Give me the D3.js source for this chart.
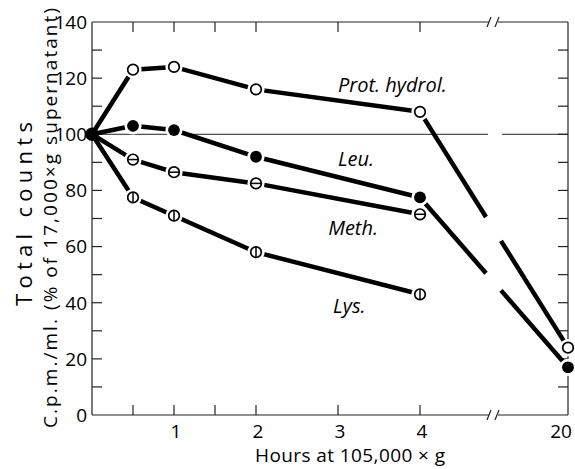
<!DOCTYPE html>
<html>
<head>
<meta charset="utf-8">
<script src="https://cdn.jsdelivr.net/npm/d3@7"></script>
<style>
  html, body { margin: 0; padding: 0; background: #fff; }
  svg { display: block; }
  text { font-family: "Open Sans", "DejaVu Sans", sans-serif; font-weight: 400; fill: #000; }
</style>
</head>
<body>
<svg id="chart" width="575" height="469"></svg>
<script>
// ---- data ----
const hours = [0, 0.5, 1, 2, 4, 20];
const protHydrol = [100, 123, 124, 116, 108, 24];
const leu = [100, 103, 101.5, 92, 77.5, 17];
const meth = [100, 91, 86.5, 82.5, 71.5];
const lys = [100, 77.5, 71, 58, 43];
const seriesNames = ["Prot. hydrol.", "Leu.", "Meth.", "Lys."];
const seriesMarkers = ["open", "filled", "hbar", "vbar"];
const labelHours = [3.0, 3.0, 2.88, 2.94];
const labelValues = [115, 88.6, 64, 36.3];
const yTicks = [0, 20, 40, 60, 80, 100, 120, 140];
const yMinorTicks = [10, 20, 30, 40, 50, 60, 70, 80, 90, 100, 110, 120, 130];
const xTickLabels = [1, 2, 3, 4, 20];
const xTicks = [0.5, 1, 1.5, 2, 3, 4];
const referenceLevel = 100;

const svg = d3.select("#chart");
const x = d3.scaleLinear().domain([0, 4, 20]).range([92, 420, 568]);
const y = d3.scaleLinear().domain([0, 140]).range([415, 22]);
const xBreak = 493;

const allSeries = [protHydrol, leu, meth, lys].map((vals, i) => ({
  name: seriesNames[i], marker: seriesMarkers[i],
  pts: vals.map((v, j) => ({ h: hours[j], v: v }))
}));

// ---- frame ----
const ax = svg.append("g").attr("stroke", "#222").attr("stroke-width", 1.2).attr("fill", "none");
const L = x(0), R = x(20), T = y(140), B = y(0);
ax.append("line").attr("x1", L).attr("x2", L).attr("y1", T).attr("y2", B);
ax.append("line").attr("x1", R).attr("x2", R).attr("y1", T).attr("y2", B);
[T, B].forEach(yy => {
  ax.append("line").attr("x1", L).attr("x2", xBreak - 4).attr("y1", yy).attr("y2", yy);
  ax.append("line").attr("x1", xBreak + 5).attr("x2", R).attr("y1", yy).attr("y2", yy);
  ax.append("line").attr("x1", xBreak - 6).attr("x2", xBreak - 2).attr("y1", yy + 5).attr("y2", yy - 5);
  ax.append("line").attr("x1", xBreak + 2).attr("x2", xBreak + 6).attr("y1", yy + 5).attr("y2", yy - 5);
});
yMinorTicks.forEach(v => {
  ax.append("line").attr("x1", L).attr("x2", L + 10).attr("y1", y(v)).attr("y2", y(v));
  ax.append("line").attr("x1", R).attr("x2", R - 10).attr("y1", y(v)).attr("y2", y(v));
});
xTicks.forEach(h => {
  ax.append("line").attr("x1", x(h)).attr("x2", x(h)).attr("y1", T).attr("y2", T + 10);
  ax.append("line").attr("x1", x(h)).attr("x2", x(h)).attr("y1", B).attr("y2", B - 10);
});
ax.append("line").attr("x1", L).attr("x2", xBreak - 5).attr("y1", y(referenceLevel)).attr("y2", y(referenceLevel)).attr("stroke-width", 1);
ax.append("line").attr("x1", xBreak + 9).attr("x2", R).attr("y1", y(referenceLevel)).attr("y2", y(referenceLevel)).attr("stroke-width", 1);

// ---- tick labels ----
svg.append("g").selectAll("text").data(yTicks).join("text")
  .attr("x", L - 5).attr("y", d => y(d)).attr("dy", "0.36em")
  .attr("text-anchor", "end").attr("font-size", 19).text(d => d);
svg.append("g").selectAll("text").data(xTickLabels).join("text")
  .attr("x", d => d === 20 ? x(d) - 7 : x(d) + 2).attr("y", 438)
  .attr("text-anchor", "middle").attr("font-size", 19).text(d => d);

// ---- axis titles ----
svg.append("text").attr("transform", "translate(32,214) rotate(-90)")
  .attr("text-anchor", "middle").attr("font-size", 22)
  .attr("textLength", 184).attr("lengthAdjust", "spacing").text("Total counts");
svg.append("text").attr("transform", "translate(57,218) rotate(-90)")
  .attr("text-anchor", "middle").attr("font-size", 19)
  .attr("textLength", 420).attr("lengthAdjust", "spacing").text("C.p.m./ml. (% of 17,000×g supernatant)");
svg.append("text").attr("x", 350).attr("y", 462)
  .attr("text-anchor", "middle").attr("font-size", 19)
  .attr("textLength", 190).attr("lengthAdjust", "spacing").text("Hours at 105,000 × g");

// ---- lines ----
const lineGen = d3.line().x(d => x(d.h)).y(d => y(d.v));
const lg = svg.append("g").attr("fill", "none").attr("stroke", "#000").attr("stroke-width", 4.5);
allSeries.forEach(s => {
  const main = s.pts.filter(p => p.h <= 4);
  lg.append("path").attr("d", lineGen(main));
  const late = s.pts.filter(p => p.h >= 4);
  if (late.length === 2) {
    const a = [x(late[0].h), y(late[0].v)], b = [x(late[1].h), y(late[1].v)];
    const at = px => { const t = (px - a[0]) / (b[0] - a[0]); return [px, a[1] + t * (b[1] - a[1])]; };
    const g1 = at(xBreak - 7), g2 = at(xBreak + 8);
    lg.append("line").attr("x1", a[0]).attr("y1", a[1]).attr("x2", g1[0]).attr("y2", g1[1]);
    lg.append("line").attr("x1", g2[0]).attr("y1", g2[1]).attr("x2", b[0]).attr("y2", b[1]);
  }
});

// ---- markers ----
const mg = svg.append("g");
const r = 5.3;
allSeries.forEach(s => {
  s.pts.filter(p => p.h > 0).forEach(p => {
    mg.append("circle").attr("cx", x(p.h)).attr("cy", y(p.v)).attr("r", r + 3.3).attr("fill", "#fff");
  });
});
allSeries.forEach(s => {
  s.pts.filter(p => p.h > 0).forEach(p => {
    const cx = x(p.h), cy = y(p.v);
    if (s.marker === "filled") {
      mg.append("circle").attr("cx", cx).attr("cy", cy).attr("r", r + 0.6).attr("fill", "#000");
    } else {
      mg.append("circle").attr("cx", cx).attr("cy", cy).attr("r", r).attr("fill", "#fff")
        .attr("stroke", "#000").attr("stroke-width", 1.7);
      if (s.marker === "hbar") mg.append("line").attr("x1", cx - r).attr("x2", cx + r).attr("y1", cy).attr("y2", cy).attr("stroke", "#000").attr("stroke-width", 1.5);
      if (s.marker === "vbar") mg.append("line").attr("x1", cx).attr("x2", cx).attr("y1", cy - r).attr("y2", cy + r).attr("stroke", "#000").attr("stroke-width", 1.5);
    }
  });
});
mg.append("circle").attr("cx", x(hours[0])).attr("cy", y(protHydrol[0])).attr("r", 6.8).attr("fill", "#000");

// ---- series labels ----
svg.append("g").selectAll("text").data(seriesNames).join("text")
  .attr("x", (d, i) => x(labelHours[i])).attr("y", (d, i) => y(labelValues[i]))
  .attr("font-style", "italic").attr("font-weight", 600).attr("font-size", 20).text(d => d);
</script>
</body>
</html>
